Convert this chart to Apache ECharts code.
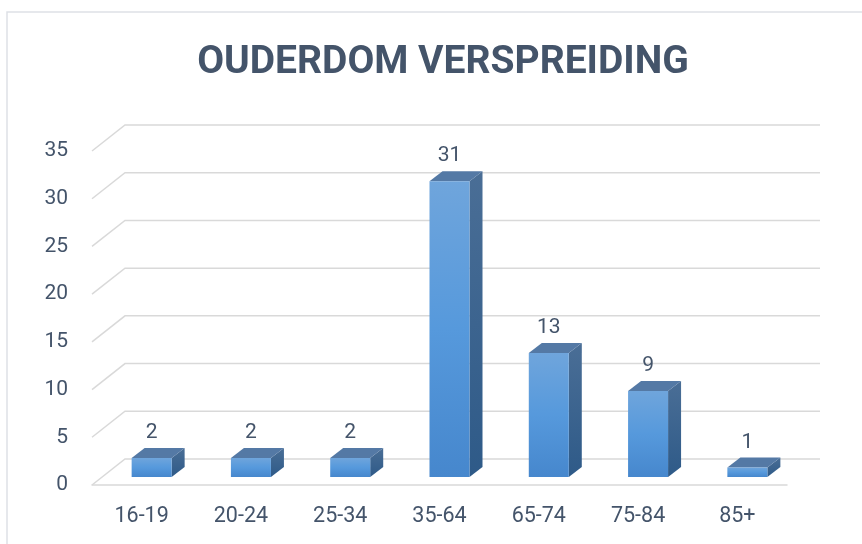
<!DOCTYPE html>
<html>
<head>
<meta charset="utf-8">
<script src="https://cdn.jsdelivr.net/npm/echarts@6/dist/echarts.min.js"></script>
<style>html,body{margin:0;padding:0;background:#fff;}#c{width:862px;height:544px;}</style>
</head>
<body>
<div id="c"></div>
<script>
var titleText = 'OUDERDOM VERSPREIDING';
var categories = ['16-19', '20-24', '25-34', '35-64', '65-74', '75-84', '85+'];
var values = [2, 2, 2, 31, 13, 9, 1];
var yTicks = [0, 5, 10, 15, 20, 25, 30, 35];

var TEXT = '#44546A';
var GRID = '#D9D9D9';
var FONT = 'Roboto';
// 3D projection offsets (style)
var WALL_DX = 33, WALL_DY = -26;   // back wall depth
var BAR_DX = 10, BAR_DY = -8;      // bar plane depth
var BAR_W = 40, BAR_DEPTH_X = 13, BAR_DEPTH_Y = -10;

var chart = echarts.init(document.getElementById('c'));
chart.setOption({
  backgroundColor: '#fff',
  animation: false,
  title: {
    text: titleText, left: 438, textAlign: 'center', top: 39,
    textStyle: { fontFamily: FONT, fontWeight: 'bold', fontSize: 39, color: TEXT }
  },
  graphic: [{
    type: 'rect', shape: { x: 7, y: 12, width: 900, height: 600 },
    style: { fill: 'none', stroke: '#DEE1E6', lineWidth: 1.5 }, z: -10
  }],
  grid: { left: 92, right: 75, top: 151, bottom: 59, containLabel: false },
  xAxis: {
    type: 'category', data: categories,
    axisLine: { show: true, lineStyle: { color: GRID, width: 1.5 } },
    axisTick: { show: false },
    axisLabel: { fontFamily: FONT, fontSize: 21.5, color: TEXT, margin: 21 },
    splitLine: { show: false }
  },
  yAxis: {
    type: 'value', min: 0, max: 35, interval: 5,
    axisLine: { show: false }, axisTick: { show: false },
    splitLine: { show: false },
    axisLabel: { fontFamily: FONT, fontSize: 21, color: TEXT, margin: 24, padding: [5, 0, 0, 0] }
  },
  series: [
    {
      type: 'custom', z: 1, silent: true,
      data: yTicks.map(function (v) { return [0, v]; }),
      renderItem: function (params, api) {
        var cs = params.coordSys;
        var y = api.coord([0, api.value(1)])[1];
        var x0 = cs.x, x1 = cs.x + cs.width;
        return {
          type: 'polyline',
          shape: { points: [[x0, y], [x0 + WALL_DX, y + WALL_DY], [x1 + WALL_DX, y + WALL_DY]] },
          style: { stroke: GRID, lineWidth: 1.5, fill: null }
        };
      }
    },
    {
      type: 'custom', z: 5,
      data: values.map(function (v, i) { return [i, v]; }),
      renderItem: function (params, api) {
        var top = api.coord([api.value(0), api.value(1)]);
        var bot = api.coord([api.value(0), 0]);
        var cx = top[0] + BAR_DX;
        var yt = top[1] + BAR_DY, yb = bot[1] + BAR_DY;
        var xl = cx - BAR_W / 2, xr = cx + BAR_W / 2;
        var dx = BAR_DEPTH_X, dy = BAR_DEPTH_Y;
        return {
          type: 'group',
          children: [
            {
              type: 'polygon',
              shape: { points: [[xr, yt], [xr + dx, yt + dy], [xr + dx, yb + dy], [xr, yb]] },
              style: { fill: new echarts.graphic.LinearGradient(0, 0, 0, 1, [
                { offset: 0, color: '#4A6E96' }, { offset: 1, color: '#2E5A88' }]) }
            },
            {
              type: 'polygon',
              shape: { points: [[xl, yt], [xl + dx, yt + dy], [xr + dx, yt + dy], [xr, yt]] },
              style: { fill: '#5479A5' }
            },
            {
              type: 'rect',
              shape: { x: xl, y: yt, width: BAR_W, height: yb - yt },
              style: { fill: new echarts.graphic.LinearGradient(0, 0, 0, 1, [
                { offset: 0, color: '#6FA5DC' }, { offset: 0.5, color: '#5699DC' }, { offset: 1, color: '#4687CD' }]) }
            },
            {
              type: 'text',
              style: {
                text: String(api.value(1)), x: cx, y: yt + dy - 15,
                align: 'center', verticalAlign: 'middle',
                fontFamily: FONT, fontSize: 21, fill: TEXT
              }
            }
          ]
        };
      }
    }
  ]
});
</script>
</body>
</html>
